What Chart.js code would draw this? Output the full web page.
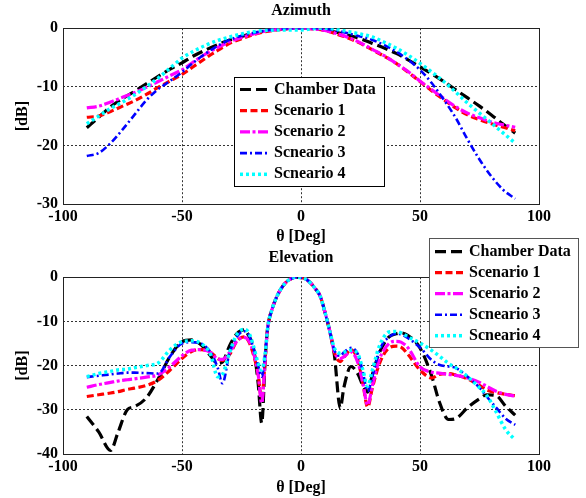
<!DOCTYPE html>
<html>
<head>
<meta charset="utf-8">
<script src="https://cdn.jsdelivr.net/npm/chart.js@4.4.1/dist/chart.umd.min.js"></script>
<style>
  html, body { margin: 0; padding: 0; background: #fff; }
  #wrap { position: relative; width: 586px; height: 498px; }
  #wrap canvas { position: absolute; left: 0; }
  #azCanvas { top: 0; }
  #elCanvas { top: 232px; }
</style>
</head>
<body>
<div id="wrap">
  <canvas id="azCanvas" width="586" height="246"></canvas>
  <canvas id="elCanvas" width="586" height="266"></canvas>
</div>
<script>
// labels and ticks
const seriesLabels = ["Chamber Data", "Scenario 1", "Scenario 2", "Scneario 3", "Scneario 4"];
const xTicks = [-100, -50, 0, 50, 100];
const azTicks = [0, -10, -20, -30];
const elTicks = [0, -10, -20, -30, -40];

// azimuth cut
const azAngles = [-90,-85,-80,-75,-70,-65,-60,-55,-50,-45,-40,-35,-30,-25,-20,-15,-10,-5,0,5,10,15,20,25,30,35,40,45,50,55,60,65,70,75,80,85,90];
const azChamber = [-17.0,-15.2,-13.4,-12.0,-10.8,-9.5,-8.2,-7.0,-5.9,-4.7,-3.7,-2.8,-2.0,-1.4,-0.9,-0.5,-0.2,-0.05,0,-0.05,-0.3,-0.7,-1.2,-1.8,-2.6,-3.4,-4.3,-5.4,-6.6,-7.8,-9.1,-10.5,-11.9,-13.3,-14.8,-16.4,-17.9];
const azS1 = [-15.2,-15.0,-14.2,-13.3,-12.4,-11.3,-10.1,-9.0,-7.9,-6.5,-5.1,-3.8,-2.6,-1.8,-1.1,-0.6,-0.3,-0.05,0,-0.1,-0.4,-1.0,-1.7,-2.6,-3.7,-4.8,-6.0,-7.5,-9.1,-10.7,-12.2,-13.6,-14.8,-15.6,-16.3,-16.9,-17.5];
const azS2 = [-13.6,-13.3,-12.6,-11.8,-11.0,-10.1,-9.1,-8.1,-7.1,-5.7,-4.4,-3.3,-2.3,-1.6,-1.0,-0.5,-0.2,-0.05,0,-0.1,-0.4,-0.9,-1.6,-2.5,-3.6,-4.7,-6.0,-7.4,-9.0,-10.5,-12.0,-13.4,-14.5,-15.3,-16.0,-16.5,-16.9];
const azS3 = [-21.8,-21.3,-19.6,-17.3,-14.8,-12.3,-10.4,-9.0,-7.5,-5.8,-4.3,-3.0,-2.0,-1.3,-0.8,-0.4,-0.2,0,0,0,-0.1,-0.4,-0.9,-1.4,-2.0,-2.9,-4.0,-5.4,-7.1,-9.4,-12.2,-15.3,-19.0,-22.4,-25.3,-27.6,-29.1];
const azS4 = [-16.3,-15.0,-13.7,-12.6,-11.4,-10.0,-8.5,-6.8,-5.1,-3.9,-2.9,-2.1,-1.5,-1.0,-0.6,-0.4,-0.3,-0.3,-0.3,-0.1,0,-0.2,-0.6,-1.0,-1.5,-2.4,-3.4,-4.6,-6.0,-7.5,-9.1,-10.9,-12.8,-14.5,-16.2,-17.9,-19.6];

// elevation cut
const elAngles = [-90,-85,-80,-77,-73,-70,-65,-60,-55,-50,-46,-42,-38,-35,-33,-30,-27,-24,-22,-20,-18,-16.5,-15,-14,-12,-10,-8,-6,-4,-2,0,2,4,6,8,10,12,14,16.5,18,21,24,26,28,30,33,37,40,42,45,50,55,58,62,65,70,75,78,82,86,90];
const elChamber = [-31.5,-35.0,-39.2,-35.3,-30.0,-29.3,-27.3,-23.0,-17.9,-14.6,-14.2,-15.3,-17.8,-19.5,-19.2,-15.5,-12.8,-11.9,-13.2,-16.0,-24.0,-33.0,-18.0,-11.5,-7.0,-4.2,-2.3,-1.0,-0.3,0,-0.1,-0.4,-1.3,-2.6,-4.2,-7.8,-12.0,-17.5,-29.6,-25.0,-20.2,-22.0,-24.5,-26.0,-22.0,-17.0,-13.5,-12.8,-12.6,-13.2,-16.0,-22.5,-28.0,-32.2,-32.0,-29.5,-27.5,-26.6,-26.8,-29.2,-31.2];
const elS1 = [-27.0,-26.6,-26.2,-25.9,-25.4,-25.1,-24.5,-23.3,-21.0,-18.4,-16.8,-16.4,-17.0,-18.4,-18.8,-17.5,-14.5,-13.5,-14.5,-17.5,-22.0,-27.7,-18.0,-11.5,-7.0,-4.2,-2.3,-1.0,-0.3,0,-0.1,-0.4,-1.3,-2.6,-4.2,-7.8,-12.0,-17.0,-19.1,-18.2,-16.4,-19.0,-24.0,-29.4,-25.0,-19.5,-16.0,-15.6,-15.8,-17.5,-21.0,-22.8,-22.0,-21.8,-22.1,-23.0,-24.5,-25.5,-26.1,-26.5,-26.8];
const elS2 = [-24.9,-24.3,-23.8,-23.5,-23.2,-23.0,-22.6,-22.1,-20.2,-17.8,-16.5,-16.4,-17.0,-18.5,-18.6,-17.0,-14.5,-13.6,-14.3,-17.0,-22.0,-28.5,-18.0,-11.5,-7.0,-4.2,-2.3,-1.0,-0.3,0,-0.1,-0.4,-1.3,-2.6,-4.2,-7.8,-12.0,-16.8,-18.4,-18.0,-16.9,-19.5,-24.0,-28.9,-24.5,-18.5,-15.0,-14.5,-14.7,-16.0,-20.3,-21.5,-21.7,-22.0,-22.2,-22.8,-23.8,-24.7,-25.8,-26.5,-26.9];
const elS3 = [-22.6,-22.3,-22.0,-21.8,-21.6,-21.6,-21.7,-21.8,-17.9,-15.0,-14.7,-15.0,-17.0,-20.5,-24.0,-17.0,-13.5,-12.2,-13.0,-16.0,-20.0,-22.5,-17.0,-11.5,-7.0,-4.2,-2.3,-1.0,-0.3,0,-0.1,-0.4,-1.3,-2.6,-4.2,-7.8,-12.0,-16.5,-17.8,-17.0,-16.0,-17.5,-21.5,-25.8,-22.5,-16.5,-13.5,-12.8,-12.9,-13.8,-15.9,-18.8,-19.8,-20.2,-20.5,-22.5,-25.0,-27.0,-29.5,-32.0,-33.4];
const elS4 = [-22.5,-21.8,-21.3,-21.0,-20.8,-20.5,-20.0,-19.4,-16.4,-14.6,-14.4,-15.0,-17.5,-22.5,-22.0,-17.0,-13.0,-11.8,-12.5,-15.5,-19.5,-21.0,-17.0,-11.5,-7.0,-4.2,-2.3,-1.0,-0.3,0,-0.1,-0.4,-1.3,-2.6,-4.2,-7.8,-12.0,-16.0,-17.2,-17.0,-16.5,-17.5,-21.0,-24.7,-21.0,-15.5,-12.4,-12.3,-12.6,-13.5,-14.9,-16.6,-17.8,-19.5,-20.5,-22.5,-25.0,-26.7,-30.5,-34.5,-36.8];

// line styles, same order as seriesLabels
const lineStyles = [
  { color: "#000000", dash: [11, 5], width: 3.2 },
  { color: "#ff0000", dash: [7, 3.5], width: 3.2 },
  { color: "#ff00ff", dash: [10, 2.5, 3, 2.5], width: 3.2 },
  { color: "#0000ff", dash: [7, 3, 2, 3], width: 2.6 },
  { color: "#00ffff", dash: [3, 3], width: 3.5 }
];

Chart.defaults.font.family = "'Liberation Serif', 'Times New Roman', serif";
Chart.defaults.font.size = 16;
Chart.defaults.font.weight = "bold";
Chart.defaults.color = "#000";

function makeDatasets(angles, seriesList) {
  return seriesList.map(function (vals, i) {
    return {
      label: seriesLabels[i],
      data: angles.map(function (a, k) { return { x: a, y: vals[k] }; }),
      borderColor: lineStyles[i].color,
      borderDash: lineStyles[i].dash,
      borderWidth: lineStyles[i].width,
      pointRadius: 0,
      fill: false,
      cubicInterpolationMode: "monotone",
      order: 5 - i
    };
  });
}

// solid box round the plot area
const frame = {
  id: "frame",
  beforeDatasetsDraw(chart) {
    const a = chart.chartArea, ctx = chart.ctx;
    ctx.save();
    ctx.strokeStyle = "#222";
    ctx.lineWidth = 1;
    ctx.strokeRect(Math.round(a.left) + 0.5, Math.round(a.top) + 0.5, Math.round(a.right - a.left), Math.round(a.bottom - a.top));
    ctx.restore();
  }
};

// matlab style legend box
const legendBox = {
  id: "legendBox",
  afterDraw(chart, args, opts) {
    const ctx = chart.ctx;
    ctx.save();
    ctx.fillStyle = "#fff";
    ctx.fillRect(opts.x, opts.y, opts.w, opts.h);
    ctx.strokeStyle = opts.border;
    ctx.lineWidth = 1;
    ctx.strokeRect(opts.x + 0.5, opts.y + 0.5, opts.w, opts.h);
    ctx.font = "bold 16px 'Liberation Serif'";
    ctx.textBaseline = "middle";
    chart.data.datasets.forEach(function (ds, i) {
      const y = opts.rowY + i * opts.rowStep;
      ctx.strokeStyle = ds.borderColor;
      ctx.lineWidth = ds.borderWidth;
      ctx.setLineDash(ds.borderDash);
      ctx.beginPath();
      ctx.moveTo(opts.x + 6, y);
      ctx.lineTo(opts.x + 34, y);
      ctx.stroke();
      ctx.setLineDash([]);
      ctx.fillStyle = "#000";
      ctx.fillText(ds.label, opts.x + 40, y);
    });
    ctx.restore();
  }
};

function makeChart(canvasId, title, angles, seriesList, yTicks, opt) {
  const ctx = document.getElementById(canvasId).getContext("2d");
  return new Chart(ctx, {
    type: "line",
    data: { datasets: makeDatasets(angles, seriesList) },
    plugins: [frame, legendBox],
    options: {
      responsive: false,
      animation: false,
      layout: { padding: { left: 0, right: 47, top: 0, bottom: 0 } },
      plugins: {
        legend: { display: false },
        tooltip: { enabled: false },
        title: {
          display: true,
          text: title,
          fullSize: false,
          font: { size: 16, weight: "bold" },
          padding: opt.titlePad
        },
        legendBox: opt.legend
      },
      scales: {
        x: {
          type: "linear",
          min: -100,
          max: 100,
          afterBuildTicks: function (s) { s.ticks = xTicks.map(function (v) { return { value: v }; }); },
          afterFit: function (s) { s.height = opt.xHeight; },
          ticks: { padding: 3, maxRotation: 0 },
          grid: { color: "#333", drawTicks: false, lineWidth: 1 },
          border: { display: false, dash: [2, 2] },
          title: { display: true, text: "θ [Deg]", padding: { top: 0, bottom: opt.xTitleBottom } }
        },
        y: {
          min: yTicks[yTicks.length - 1],
          max: 0,
          afterBuildTicks: function (s) { s.ticks = yTicks.map(function (v) { return { value: v }; }); },
          afterFit: function (s) { s.width = 63; },
          ticks: { padding: 5 },
          grid: { color: "#333", drawTicks: false, lineWidth: 1 },
          border: { display: false, dash: [2, 2] },
          title: { display: true, text: "[dB]", padding: { top: 13, bottom: 0 } }
        }
      }
    }
  });
}

makeChart("azCanvas", "Azimuth", azAngles, [azChamber, azS1, azS2, azS3, azS4], azTicks, {
  titlePad: { top: 1, bottom: 8 },
  xHeight: 42,
  xTitleBottom: 0,
  legend: { x: 234, y: 77, w: 150, h: 109, rowY: 89.5, rowStep: 21.2, border: "#000" }
});

makeChart("elCanvas", "Elevation", elAngles, [elChamber, elS1, elS2, elS3, elS4], elTicks, {
  titlePad: { top: 16, bottom: 10 },
  xHeight: 44,
  xTitleBottom: 1,
  legend: { x: 429, y: 6, w: 149, h: 109, rowY: 19.7, rowStep: 21, border: "#555" }
});
</script>
</body>
</html>
